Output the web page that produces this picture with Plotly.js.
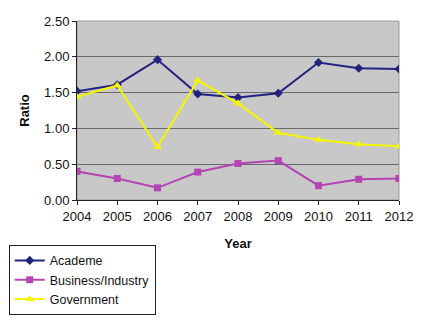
<!DOCTYPE html>
<html><head><meta charset="utf-8">
<script src="https://cdn.plot.ly/plotly-3.0.1.min.js"></script>
<style>body{margin:0;background:#fff}#c{width:432px;height:324px}</style>
</head><body><div id="c"></div>
<script>
const years = [2004, 2005, 2006, 2007, 2008, 2009, 2010, 2011, 2012];
const academe = [1.52, 1.61, 1.96, 1.48, 1.43, 1.49, 1.92, 1.84, 1.83];
const business = [0.40, 0.30, 0.17, 0.39, 0.51, 0.55, 0.20, 0.29, 0.30];
const government = [1.44, 1.60, 0.74, 1.67, 1.35, 0.94, 0.84, 0.78, 0.75];

const traces = [
  {x: years, y: academe, name: 'Academe', mode: 'lines+markers',
   line: {color: '#23237f', width: 2}, marker: {symbol: 'diamond', size: 7, color: '#23237f'}},
  {x: years, y: business, name: 'Business/Industry', mode: 'lines+markers',
   line: {color: '#b444b4', width: 2}, marker: {symbol: 'square', size: 7, color: '#b444b4'}},
  {x: years, y: government, name: 'Government', mode: 'lines+markers',
   line: {color: '#f5f500', width: 2}, marker: {symbol: 'triangle-up', size: 8, color: '#f5f500'}}
];

const layout = {
  width: 432, height: 324,
  margin: {l: 77, r: 33, t: 21, b: 124, autoexpand: false},
  paper_bgcolor: '#ffffff',
  plot_bgcolor: '#c8c8c8',
  font: {family: 'Liberation Sans, Arial, sans-serif', size: 13, color: '#111'},
  showlegend: true,
  legend: {x: -0.212, y: -0.25, xanchor: 'left', yanchor: 'top',
           bordercolor: '#222', borderwidth: 1, bgcolor: '#fff',
           font: {size: 12.5}, tracegroupgap: 0, itemwidth: 30},
  xaxis: {range: [2004, 2012], tickvals: years, ticktext: years.map(String),
          automargin: false,
          showgrid: false, zeroline: false, showline: true, linecolor: '#222', linewidth: 1,
          ticks: 'outside', ticklen: 4, tickcolor: '#222',
          title: {text: '<b>Year</b>', font: {size: 13}, standoff: 16},
          mirror: false},
  yaxis: {range: [0, 2.5], dtick: 0.5, tickformat: '.2f',
          automargin: false,
          showgrid: true, gridcolor: '#6a6a6a', gridwidth: 1.2, zeroline: false,
          showline: true, linecolor: '#222', linewidth: 1,
          ticks: 'outside', ticklen: 4, tickcolor: '#222',
          title: {text: '<b>Ratio</b>', font: {size: 13}, standoff: 11}},
  shapes: [
    {type: 'rect', xref: 'paper', yref: 'paper', x0: 0, x1: 1, y0: 0, y1: 1,
     line: {color: '#9a9a9a', width: 1}, fillcolor: 'rgba(0,0,0,0)', layer: 'below'}
  ]
};

Plotly.newPlot('c', traces, layout, {displayModeBar: false, staticPlot: true});
</script></body></html>
